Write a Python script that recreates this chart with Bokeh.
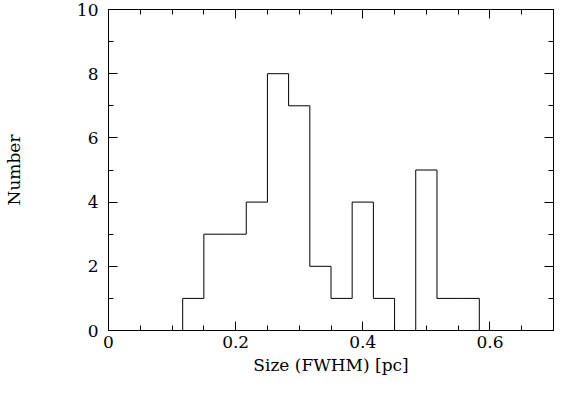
from bokeh.plotting import figure
from bokeh.models import LinearAxis, FixedTicker, CustomJSTickFormatter, Range1d
from bokeh.embed import file_html
from bokeh.resources import INLINE

# Histogram data
bin_edges = [0.1167, 0.15, 0.1833, 0.2167, 0.25, 0.2833, 0.3167, 0.35,
             0.3833, 0.4167, 0.45, 0.4833, 0.5167, 0.55, 0.5833]
counts = [1, 3, 3, 4, 8, 7, 2, 1, 4, 1, 0, 5, 1, 1]
x_range = (0.0, 0.7)
y_range = (0, 10)
x_major = [0.0, 0.2, 0.4, 0.6]
x_minor = [0.05 * k for k in range(0, 15)]
y_major = [0, 2, 4, 6, 8, 10]
y_minor = list(range(0, 11))

FONT = "DejaVu Serif"

p = figure(width=554, height=377, output_backend="svg", toolbar_location=None,
           x_range=Range1d(*x_range), y_range=Range1d(*y_range),
           x_axis_location=None, y_axis_location=None,
           min_border_left=0, min_border_right=1, min_border_top=9,
           min_border_bottom=0)
p.grid.visible = False
p.outline_line_color = "black"
p.outline_line_width = 1
p.background_fill_color = "white"
p.border_fill_color = "white"

xs = [x_range[0]] + bin_edges + [x_range[1]]
ys = [0] + counts + [0, 0]
p.step(xs, ys, mode="after", line_color="black", line_width=1)

fmt = CustomJSTickFormatter(code="return tick == 0 ? '0' : tick.toFixed(1);")
blank = CustomJSTickFormatter(code="return '';")


def style(ax, labels):
    ax.axis_line_color = "black"
    ax.major_tick_line_color = "black"
    ax.minor_tick_line_color = "black"
    ax.major_tick_in = 9
    ax.major_tick_out = 0
    ax.minor_tick_in = 5
    ax.minor_tick_out = 0
    if labels:
        ax.major_label_text_font = FONT
        ax.major_label_text_font_size = "17px"
        ax.major_label_text_color = "black"
        ax.axis_label_text_font = FONT
        ax.axis_label_text_font_size = "17px"
        ax.axis_label_text_font_style = "normal"
        ax.axis_label_text_color = "black"
    else:
        ax.formatter = blank
        ax.major_label_text_font_size = "1px"
        ax.major_label_standoff = 0
        ax.axis_label_standoff = 0


xb = LinearAxis(ticker=FixedTicker(ticks=x_major, minor_ticks=x_minor),
                formatter=fmt, axis_label="Size (FWHM) [pc]")
style(xb, True)
xb.major_label_standoff = 5
xb.axis_label_standoff = 4
p.add_layout(xb, "below")

xt = LinearAxis(ticker=FixedTicker(ticks=x_major, minor_ticks=x_minor))
style(xt, False)
p.add_layout(xt, "above")

yl = LinearAxis(ticker=FixedTicker(ticks=y_major, minor_ticks=y_minor),
                axis_label="Number")
style(yl, True)
yl.major_label_standoff = 10
yl.axis_label_standoff = 50
p.add_layout(yl, "left")

yr = LinearAxis(ticker=FixedTicker(ticks=y_major, minor_ticks=y_minor))
style(yr, False)
p.add_layout(yr, "right")

open("out.html", "w").write(file_html(p, INLINE))
